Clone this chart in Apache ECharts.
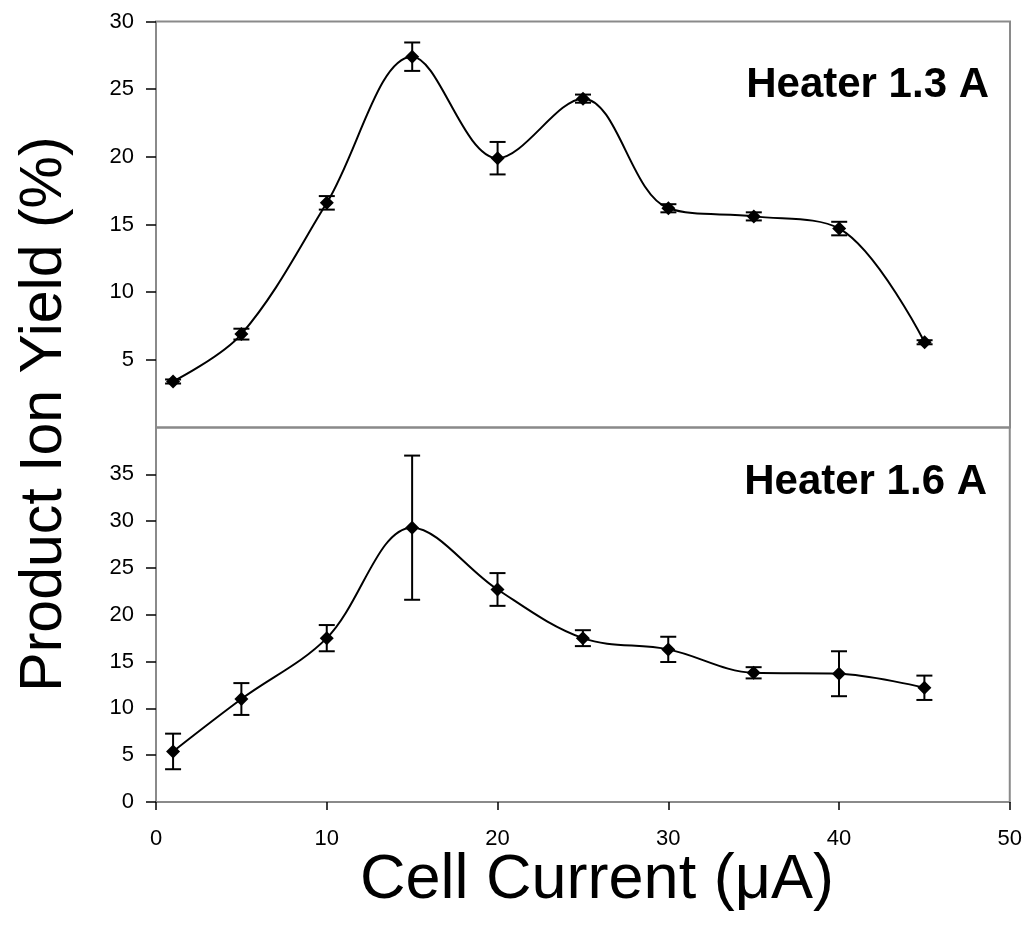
<!DOCTYPE html>
<html>
<head>
<meta charset="utf-8">
<script src="https://cdn.jsdelivr.net/npm/echarts@6/dist/echarts.min.js"></script>
<style>
  html, body { margin: 0; padding: 0; background: #fff; }
  #chart { width: 1025px; height: 938px; }
</style>
</head>
<body>
<div id="chart"></div>
<script>
// cell current (uA)
var currents = [1, 5, 10, 15, 20, 25, 30, 35, 40, 45];
// heater 1.3 A
var yield13 = [3.4, 6.9, 16.6, 27.4, 19.9, 24.3, 16.2, 15.6, 14.7, 6.3];
var err13 = [0.15, 0.4, 0.5, 1.05, 1.2, 0.3, 0.3, 0.3, 0.5, 0.15];
// heater 1.6 A
var yield16 = [5.4, 11.0, 17.5, 29.3, 22.7, 17.5, 16.3, 13.8, 13.7, 12.2];
var err16 = [1.9, 1.7, 1.4, 7.7, 1.75, 0.85, 1.35, 0.6, 2.4, 1.3];

var topTicks = [5, 10, 15, 20, 25, 30];
var bottomTicks = [0, 5, 10, 15, 20, 25, 30, 35];

var FONT = 'Liberation Sans, Arial, sans-serif';
var GREY = '#8a8a8a';

function points(ys) {
    return currents.map(function(x, i) { return [x, ys[i]]; });
}
function errRows(ys, es) {
    return currents.map(function(x, i) { return [x, ys[i] - es[i], ys[i] + es[i]]; });
}

function renderErr(params, api) {
    var lo = api.coord([api.value(0), api.value(1)]);
    var hi = api.coord([api.value(0), api.value(2)]);
    var cap = 8;
    var style = { stroke: '#000', lineWidth: 2 };
    return {
        type: 'group',
        children: [
            { type: 'line', shape: { x1: lo[0], y1: lo[1], x2: hi[0], y2: hi[1] }, style: style },
            { type: 'line', shape: { x1: lo[0] - cap, y1: lo[1], x2: lo[0] + cap, y2: lo[1] }, style: style },
            { type: 'line', shape: { x1: hi[0] - cap, y1: hi[1], x2: hi[0] + cap, y2: hi[1] }, style: style }
        ]
    };
}

function yAxis(idx, max, ticks) {
    return {
        type: 'value', gridIndex: idx, min: 0, max: max, interval: 5,
        splitLine: { show: false },
        axisLine: { show: false },
        axisTick: { show: true, length: 10, customValues: ticks, lineStyle: { color: '#000', width: 1.5 } },
        axisLabel: { customValues: ticks, margin: 22, color: '#000', fontSize: 22, fontFamily: FONT }
    };
}

var chart = echarts.init(document.getElementById('chart'));
chart.setOption({
    animation: false,
    grid: [
        { left: 156, right: 15, top: 21.5, height: 406, show: true, borderColor: GREY, borderWidth: 2 },
        { left: 156, right: 15, top: 427.5, height: 374.5, show: true, borderColor: GREY, borderWidth: 2 }
    ],
    xAxis: [
        { type: 'value', gridIndex: 0, min: 0, max: 50, interval: 10, show: false },
        {
            type: 'value', gridIndex: 1, min: 0, max: 50, interval: 10,
            splitLine: { show: false },
            axisLine: { show: false },
            axisTick: { show: true, length: 8, lineStyle: { color: '#000', width: 1.5 } },
            axisLabel: { margin: 26, color: '#000', fontSize: 22, fontFamily: FONT }
        }
    ],
    yAxis: [yAxis(0, 30, topTicks), yAxis(1, 40, bottomTicks)],
    graphic: [
        { type: 'text', right: 36, top: 64, style: { text: 'Heater 1.3 A', font: 'bold 42px ' + FONT, fill: '#000' } },
        { type: 'text', right: 38, top: 461, style: { text: 'Heater 1.6 A', font: 'bold 42px ' + FONT, fill: '#000' } },
        {
            type: 'text', x: 45, y: 414, rotation: Math.PI / 2,
            style: { text: 'Product Ion Yield (%)', font: '59px ' + FONT, fill: '#000', align: 'center', verticalAlign: 'middle' }
        },
        {
            type: 'text', x: 597, y: 881,
            style: { text: 'Cell Current (\u03bcA)', font: '63px ' + FONT, fill: '#000', align: 'center', verticalAlign: 'middle' }
        }
    ],
    series: [
        {
            type: 'line', xAxisIndex: 0, yAxisIndex: 0, data: points(yield13), smooth: 0.35,
            symbol: 'diamond', symbolSize: 14, itemStyle: { color: '#000' },
            lineStyle: { color: '#000', width: 2 }, z: 3
        },
        { type: 'custom', xAxisIndex: 0, yAxisIndex: 0, data: errRows(yield13, err13), renderItem: renderErr, z: 2 },
        {
            type: 'line', xAxisIndex: 1, yAxisIndex: 1, data: points(yield16), smooth: 0.35,
            symbol: 'diamond', symbolSize: 14, itemStyle: { color: '#000' },
            lineStyle: { color: '#000', width: 2 }, z: 3
        },
        { type: 'custom', xAxisIndex: 1, yAxisIndex: 1, data: errRows(yield16, err16), renderItem: renderErr, z: 2 }
    ]
});
</script>
</body>
</html>
